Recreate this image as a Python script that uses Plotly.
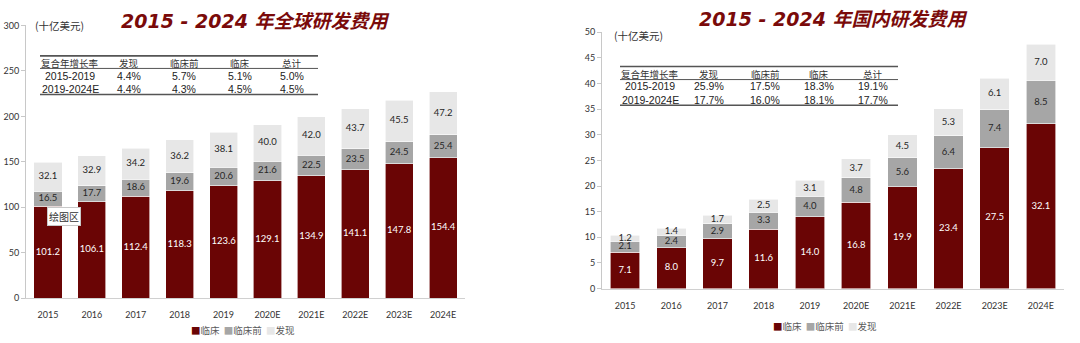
import plotly.graph_objects as go

W, H = 1080, 343

years = ["2015", "2016", "2017", "2018", "2019", "2020E", "2021E", "2022E", "2023E", "2024E"]

# Global R&D spend (billion USD)
g_clinical = [101.2, 106.1, 112.4, 118.3, 123.6, 129.1, 134.9, 141.1, 147.8, 154.4]
g_preclinical = [16.5, 17.7, 18.6, 19.6, 20.6, 21.6, 22.5, 23.5, 24.5, 25.4]
g_discovery = [32.1, 32.9, 34.2, 36.2, 38.1, 40.0, 42.0, 43.7, 45.5, 47.2]

# China R&D spend (billion USD)
c_clinical = [7.1, 8.0, 9.7, 11.6, 14.0, 16.8, 19.9, 23.4, 27.5, 32.1]
c_preclinical = [2.1, 2.4, 2.9, 3.3, 4.0, 4.8, 5.6, 6.4, 7.4, 8.5]
c_discovery = [1.2, 1.4, 1.7, 2.5, 3.1, 3.7, 4.5, 5.3, 6.1, 7.0]

table_header = ["复合年增长率", "发现", "临床前", "临床", "总计"]
g_table = [["2015-2019", "4.4%", "5.7%", "5.1%", "5.0%"],
           ["2019-2024E", "4.4%", "4.3%", "4.5%", "4.5%"]]
c_table = [["2015-2019", "25.9%", "17.5%", "18.3%", "19.1%"],
           ["2019-2024E", "17.7%", "16.0%", "18.1%", "17.7%"]]

series_names = ["临床", "临床前", "发现"]
colors = ["#6a0505", "#a6a6a6", "#e7e7e7"]
label_colors = ["#ffffff", "#262626", "#262626"]

CJK = "Noto Sans CJK SC"
NUM = "Lato, 'Noto Sans CJK SC'"


def px(x):
    return x / W


def py(y):
    return 1 - y / H


fig = go.Figure()


def add_stack(xa, ya, series):
    base = [0.0] * len(years)
    for name, vals, col, lcol in zip(series_names, series, colors, label_colors):
        fig.add_trace(go.Bar(x=years, y=vals, name=name, marker=dict(color=col, line=dict(color="#ffffff", width=0.6)),
                             xaxis=xa, yaxis=ya, showlegend=False, hoverinfo="x+y+name"))
        mids = [b + v / 2 for b, v in zip(base, vals)]
        fig.add_trace(go.Scatter(x=years, y=mids, mode="text", text=[f"{v:.1f}" for v in vals],
                                 textfont=dict(family=NUM, size=9.5, color=lcol),
                                 xaxis=xa, yaxis=ya, showlegend=False, hoverinfo="skip"))
        base = [b + v for b, v in zip(base, vals)]


add_stack("x", "y", [g_clinical, g_preclinical, g_discovery])
add_stack("x2", "y2", [c_clinical, c_preclinical, c_discovery])

axis_font = dict(family=NUM, size=9, color="#333333")
common_x = dict(type="category", showline=True, linecolor="#d0d0d0", linewidth=1, ticks="",
                showgrid=False, zeroline=False, tickfont=axis_font)
common_y = dict(showline=True, linecolor="#c8c8c8", linewidth=1, ticks="outside", ticklen=4,
                tickcolor="#c8c8c8", showgrid=False, zeroline=False, tickfont=axis_font)

fig.update_layout(
    width=W, height=H, margin=dict(l=0, r=0, t=0, b=0),
    paper_bgcolor="white", plot_bgcolor="white",
    barmode="stack", bargap=0.36,
    showlegend=False,
    xaxis=dict(domain=[px(26), px(465)], anchor="y", ticklabelstandoff=8, **common_x),
    yaxis=dict(domain=[py(302), py(20)], range=[0, 300], dtick=50, anchor="x", **common_y),
    xaxis2=dict(domain=[px(602), px(1064)], anchor="y2", ticklabelstandoff=9, **common_x),
    yaxis2=dict(domain=[py(292), py(27)], range=[0, 50], dtick=5, anchor="x2", **common_y),
)

ann = []
shapes = []

title_font = dict(family="'DejaVu Sans', 'Noto Sans CJK SC'", size=19, color="#7a0a0a", weight=700, style="italic")
ann.append(dict(x=px(255), y=py(15), xref="paper", yref="paper", text="2015 - 2024 年全球研发费用",
                showarrow=False, font=title_font, xanchor="center", yanchor="middle"))
ann.append(dict(x=px(833), y=py(13), xref="paper", yref="paper", text="2015 - 2024 年国内研发费用",
                showarrow=False, font=title_font, xanchor="center", yanchor="middle"))

unit_font = dict(family=CJK, size=10.5, color="#333333")
ann.append(dict(x=px(33), y=py(20), xref="paper", yref="paper", text="(十亿美元)", showarrow=False,
                font=unit_font, xanchor="left", yanchor="middle"))
ann.append(dict(x=px(612), y=py(30), xref="paper", yref="paper", text="(十亿美元)", showarrow=False,
                font=unit_font, xanchor="left", yanchor="middle"))


def add_table(x0, x1, col_x, y_top, y_head, y_line, y_r1, y_r2, y_bot, rows):
    for yy, w in [(y_top, 1.6), (y_line, 1.0), (y_bot, 1.6)]:
        shapes.append(dict(type="line", xref="paper", yref="paper", x0=px(x0), x1=px(x1), y0=py(yy), y1=py(yy),
                           line=dict(color="#555555", width=w)))
    for cx, t in zip(col_x, table_header):
        ann.append(dict(x=px(cx), y=py(y_head), xref="paper", yref="paper", text=t, showarrow=False,
                        font=dict(family=CJK, size=9.5, color="#333333"), xanchor="center", yanchor="middle"))
    for ry, row in zip([y_r1, y_r2], rows):
        for cx, t in zip(col_x, row):
            ann.append(dict(x=px(cx), y=py(ry), xref="paper", yref="paper", text=t, showarrow=False,
                            font=dict(family="'Liberation Sans', Arial", size=10.5, color="#222222"),
                            xanchor="center", yanchor="middle"))


add_table(40, 318, [70, 129, 184, 240, 292], 51.5, 58.5, 64.5, 72, 85.5, 91.5, g_table)
add_table(620, 898, [650, 709, 765, 819, 873], 62.5, 70.5, 76, 83, 97.5, 102.5, c_table)

# Legends (compact, as in the reference)
leg_text = "  ".join(f'<span style="color:{c}">■</span>{n}' for n, c in zip(series_names, colors))
ann.append(dict(x=px(243), y=py(335), xref="paper", yref="paper", text=leg_text, showarrow=False,
                font=dict(family=CJK, size=9.5, color="#595959"), xanchor="center", yanchor="middle"))
ann.append(dict(x=px(825), y=py(331), xref="paper", yref="paper", text=leg_text, showarrow=False,
                font=dict(family=CJK, size=9.5, color="#595959"), xanchor="center", yanchor="middle"))

# Excel "plot area" tooltip left in the original screenshot
ann.append(dict(x=px(64), y=py(217.5), xref="paper", yref="paper", text="绘图区", showarrow=False,
                font=dict(family=CJK, size=10, color="#333333"), bgcolor="#ffffff", bordercolor="#c8c8c8",
                borderwidth=1, borderpad=1, xanchor="center", yanchor="middle"))

fig.update_layout(annotations=ann, shapes=shapes)

fig.write_html("out.html")
